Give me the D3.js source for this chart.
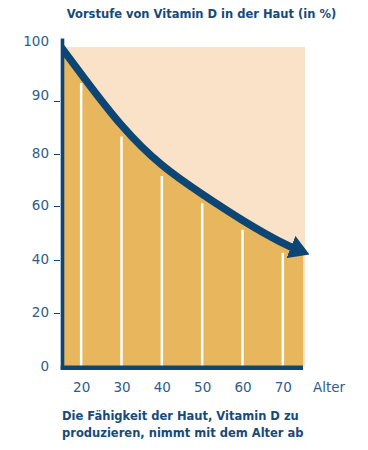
<!DOCTYPE html>
<html>
<head>
<meta charset="utf-8">
<script src="https://cdn.jsdelivr.net/npm/d3@7"></script>
<style>
  body { margin: 0; background: #fff; }
  svg { display: block; }
</style>
</head>
<body>
<div id="chart"></div>
<script>
// values
var ages = [15, 20, 30, 40, 50, 60, 70, 75];
var shares = [100, 95, 85, 75, 64.5, 54.5, 46, 43];
var yTicks = [0, 20, 40, 60, 80, 90, 100];
var xTicks = [20, 30, 40, 50, 60, 70];
var title = "Vorstufe von Vitamin D in der Haut (in %)";
var note = ["Die Fähigkeit der Haut, Vitamin D zu", "produzieren, nimmt mit dem Alter ab"];

var width = 368, height = 450;
var navy = "#0d4674", gold = "#e8b65d", peach = "#f9e2c8";

var data = ages.map(function(a, i) { return {age: a, v: shares[i]}; });

var svg = d3.select("#chart").append("svg")
  .attr("width", width)
  .attr("height", height);

// the y axis is not linear: ticks are evenly spaced, 80-90-100 squeezed in
var x = d3.scaleLinear().domain([15, 75]).range([61, 303]);
var y = d3.scaleLinear().domain(yTicks).range([367, 313, 260, 206, 154, 101, 47]);

// background
svg.append("rect")
  .attr("x", x(15))
  .attr("y", y(100))
  .attr("width", x(75) - x(15) + 2)
  .attr("height", y(0) - y(100))
  .attr("fill", peach);

// gold area under the curve
var area = d3.area()
  .x(function(d) { return x(d.age); })
  .y0(y(0))
  .y1(function(d) { return y(d.v); })
  .curve(d3.curveBasis);

svg.append("path")
  .datum(data)
  .attr("d", area)
  .attr("fill", gold);

// white separators at each decade
svg.selectAll(".sep")
  .data(xTicks)
  .enter()
  .append("line")
    .attr("x1", function(d) { return x(d); })
    .attr("x2", function(d) { return x(d); })
    .attr("y1", function(d) { return y(shares[ages.indexOf(d)]) + 9; })
    .attr("y2", y(0))
    .attr("stroke", "#fff")
    .attr("stroke-width", 2.5);

// arrow head
svg.append("defs").append("marker")
  .attr("id", "arrow")
  .attr("viewBox", "0 -12 20 24")
  .attr("refX", 13)
  .attr("refY", 0)
  .attr("markerWidth", 20)
  .attr("markerHeight", 24)
  .attr("markerUnits", "userSpaceOnUse")
  .attr("orient", "auto")
  .append("path")
    .attr("d", "M0,-12L20,0L0,12Z")
    .attr("fill", navy);

svg.select("defs").append("clipPath")
  .attr("id", "plotclip")
  .append("rect")
    .attr("x", x(15))
    .attr("y", 0)
    .attr("width", width)
    .attr("height", height);

var line = d3.line()
  .x(function(d) { return x(d.age); })
  .y(function(d) { return y(d.v); })
  .curve(d3.curveBasis);

svg.append("path")
  .datum(data)
  .attr("d", line)
  .attr("fill", "none")
  .attr("stroke", navy)
  .attr("stroke-width", 7.5)
  .attr("clip-path", "url(#plotclip)")
  .attr("marker-end", "url(#arrow)");

// axes
var yAxis = svg.append("g")
  .attr("transform", "translate(60,0)")
  .call(d3.axisLeft(y).tickValues(yTicks).tickSize(6).tickPadding(5));

var xAxis = svg.append("g")
  .attr("transform", "translate(0," + y(0) + ")")
  .call(d3.axisBottom(x).tickValues(xTicks).tickSize(0).tickPadding(15.5));

[yAxis, xAxis].forEach(function(g) {
  g.select(".domain").remove();
  g.selectAll("text")
    .attr("fill", "#2d5c8c")
    .style("font-family", "DejaVu Sans")
    .style("font-size", "13.5px");
  g.selectAll("line").attr("stroke", navy);
});

yAxis.selectAll(".tick")
  .filter(function(d) { return d === 0 || d === 100; })
  .select("line").remove();
// top labels sit above their tick
yAxis.selectAll("text")
  .attr("dy", function(d) { return d >= 90 ? "-0.1em" : "0.25em"; });

// thick axis lines
svg.append("line")
  .attr("x1", 62.5).attr("x2", 62.5)
  .attr("y1", 38.5).attr("y2", 369.5)
  .attr("stroke", navy)
  .attr("stroke-width", 3.6);

svg.append("line")
  .attr("x1", 60.7).attr("x2", x(75))
  .attr("y1", y(0) + 0.8).attr("y2", y(0) + 0.8)
  .attr("stroke", navy)
  .attr("stroke-width", 4.4);

svg.append("text")
  .attr("x", 313)
  .attr("y", 391.7)
  .attr("fill", "#2d5c8c")
  .style("font-family", "DejaVu Sans")
  .style("font-size", "13.5px")
  .text("Alter");

// title and note
svg.append("text")
  .attr("x", 201.5)
  .attr("y", 18.3)
  .attr("text-anchor", "middle")
  .attr("fill", "#164a78")
  .style("font-family", "DejaVu Sans")
  .style("font-weight", "bold")
  .style("font-size", "11.5px")
  .text(title);

svg.selectAll(".note")
  .data(note)
  .enter()
  .append("text")
    .attr("x", 62)
    .attr("y", function(d, i) { return 420 + i * 17; })
    .attr("fill", "#164a78")
    .style("font-family", "DejaVu Sans")
    .style("font-weight", "bold")
    .style("font-size", "11.5px")
    .text(function(d) { return d; });
</script>
</body>
</html>
